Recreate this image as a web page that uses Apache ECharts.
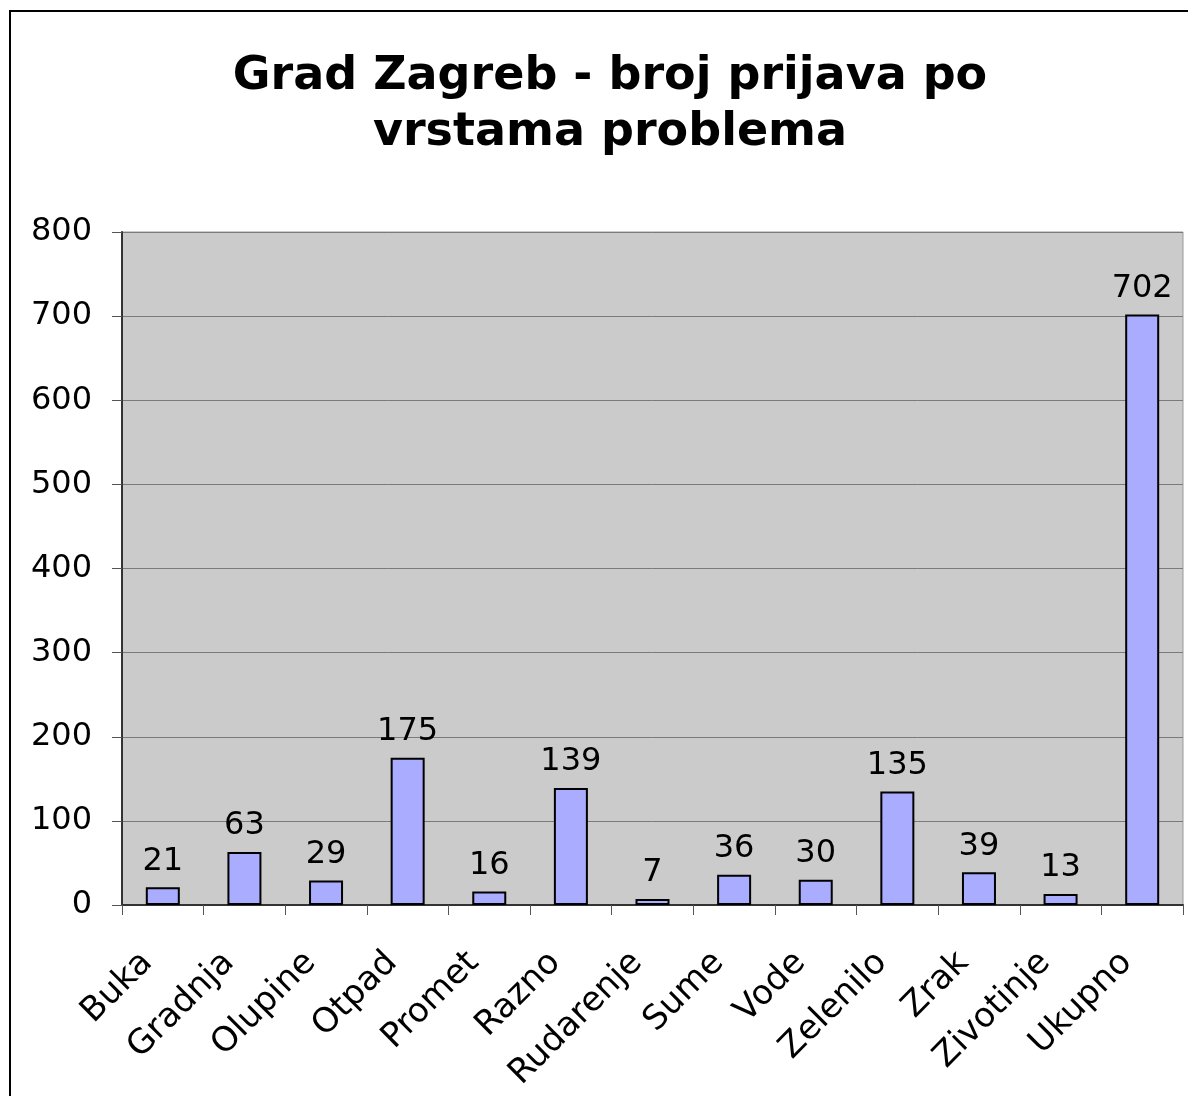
<!DOCTYPE html>
<html>
<head>
<meta charset="utf-8">
<script src="https://cdn.jsdelivr.net/npm/echarts@6/dist/echarts.min.js"></script>
<style>
  html, body { margin: 0; padding: 0; background: #fff; }
  #chart { width: 1188px; height: 1096px; }
</style>
</head>
<body>
<div id="chart"></div>
<script>
// kategorije i vrijednosti
const categories = ['Buka', 'Gradnja', 'Olupine', 'Otpad', 'Promet', 'Razno', 'Rudarenje', 'Sume', 'Vode', 'Zelenilo', 'Zrak', 'Zivotinje', 'Ukupno'];
const counts = [21, 63, 29, 175, 16, 139, 7, 36, 30, 135, 39, 13, 702];
const yTicks = [0, 100, 200, 300, 400, 500, 600, 700, 800];

const font = 'Verdana, "DejaVu Sans", sans-serif';
let myChart = echarts.init(document.getElementById('chart'));

myChart.setOption({
  animation: false,
  textStyle: { fontFamily: font },
  title: {
    text: 'Grad Zagreb - broj prijava po\nvrstama problema',
    left: 605,
    top: 44,
    textAlign: 'center',
    textStyle: { fontFamily: font, fontSize: 46, fontWeight: 'bold', color: '#000', lineHeight: 56 }
  },
  // okvir grafikona
  graphic: [{
    type: 'rect',
    shape: { x: 10, y: 11, width: 1400, height: 1300 },
    style: { fill: null, stroke: '#000', lineWidth: 2 },
    silent: true
  }],
  grid: { left: 122, top: 232, right: 5, bottom: 191, show: true, backgroundColor: '#cbcbcb', borderColor: '#999', borderWidth: 1 },
  xAxis: {
    type: 'category',
    data: categories,
    boundaryGap: true,
    axisLine: { lineStyle: { color: '#333', width: 2 } },
    axisTick: { show: true, length: 10, lineStyle: { color: '#555', width: 1 } },
    axisLabel: { rotate: 45, margin: 37, padding: [0, 22, 0, 0], fontSize: 34, color: '#000', fontFamily: font, interval: 0 }
  },
  yAxis: {
    type: 'value',
    min: yTicks[0],
    max: yTicks[yTicks.length - 1],
    interval: 100,
    axisLine: { show: true, lineStyle: { color: '#333', width: 2 } },
    axisTick: { show: true, length: 10, lineStyle: { color: '#555', width: 1 } },
    splitLine: { show: true, lineStyle: { color: '#7a7a7a', width: 1 } },
    axisLabel: { margin: 30, fontSize: 32, color: '#000', fontFamily: font }
  },
  series: [{
    type: 'bar',
    data: counts,
    barWidth: 34,
    itemStyle: { color: '#a9acff', borderColor: '#000', borderWidth: 2 },
    label: { show: true, position: 'top', distance: 10, fontSize: 32, color: '#000', fontFamily: font }
  }]
});
</script>
</body>
</html>
